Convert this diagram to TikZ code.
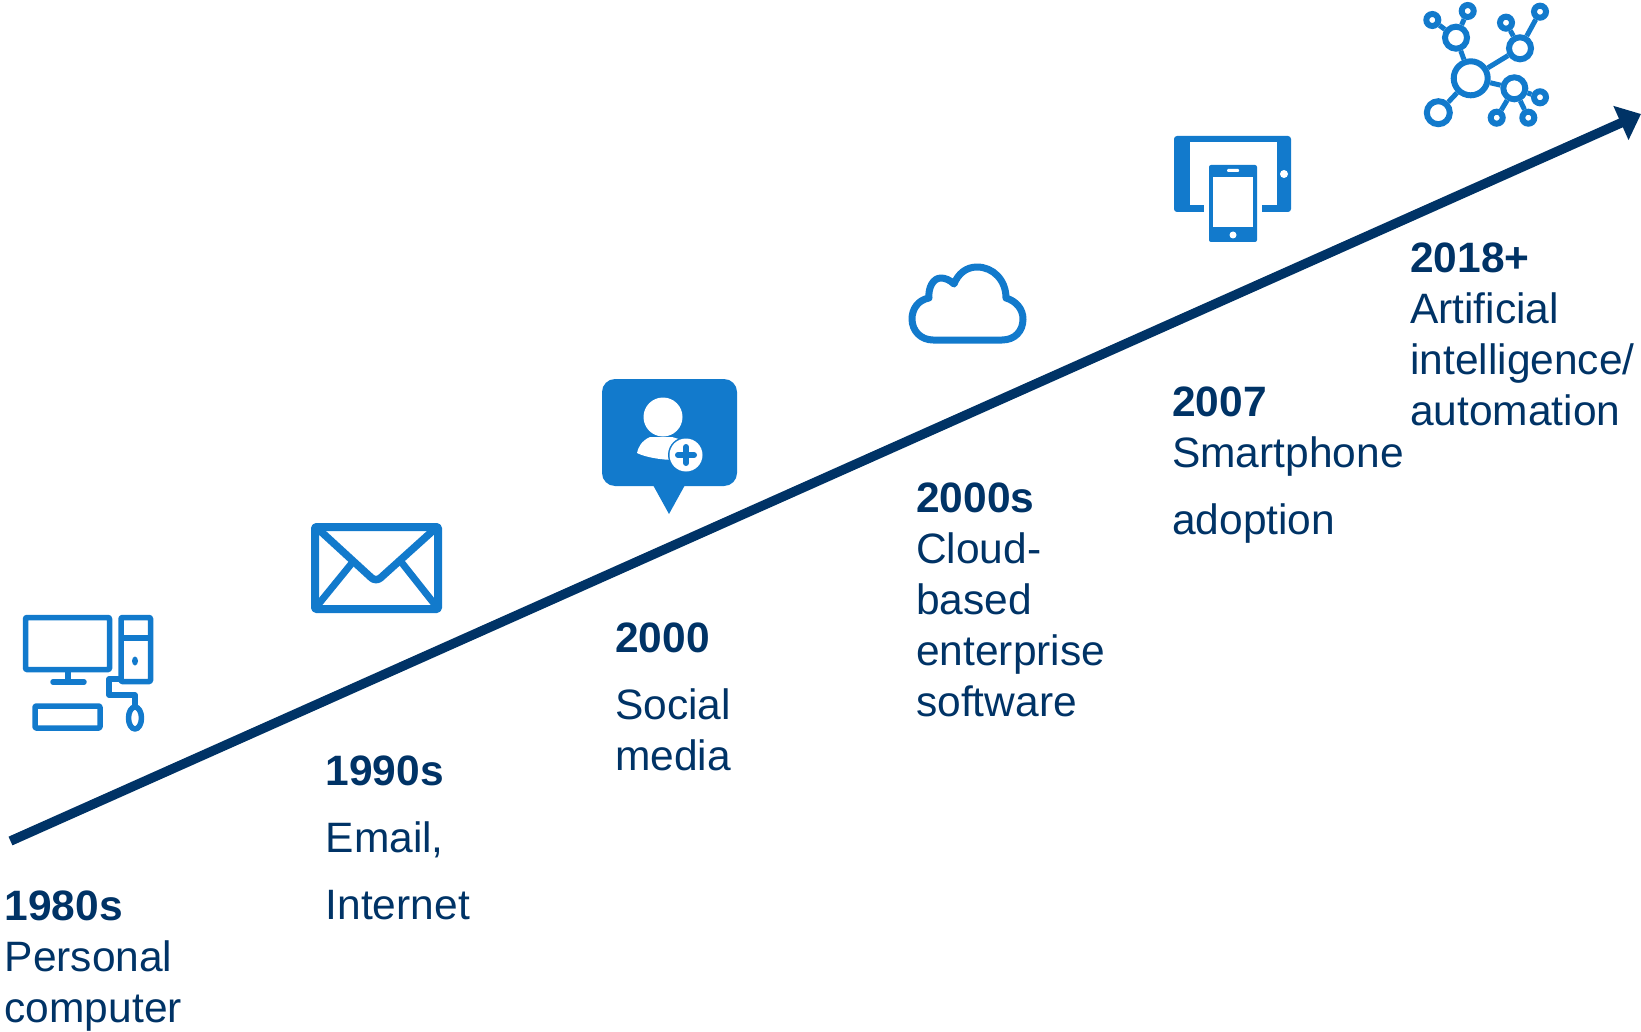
\documentclass[tikz,border=0pt]{standalone}
\usepackage{fontspec}
\setmainfont{Liberation Sans}
\usetikzlibrary{arrows.meta}

\definecolor{navyline}{HTML}{003366}
\definecolor{iconblue}{HTML}{127ACC}

\tikzset{
    eralabel/.style={anchor=north west, inner sep=0pt, align=left, text=navyline,
        font=\fontsize{42.5}{51}\selectfont},
    iconline/.style={draw=iconblue, line join=round},
    hubnode/.style={circle, draw=iconblue, line width=6pt, inner sep=0pt},
    hublink/.style={draw=iconblue, line width=5pt}
}

\begin{document}
\begin{tikzpicture}[x=1pt, y=-1pt]
    \useasboundingbox (0,0) rectangle (1641,1032);

    % Draw the rising time line
    \coordinate (linestart) at (10.5,841);
    \coordinate (linetip) at (1641,114);
    \draw[navyline, line width=9.5pt, -{Triangle[length=22pt,width=36pt]}] (linestart) -- (linetip);

    % Draw the labels under the line
    \node[eralabel] (pc) at (4.5,891) {\textbf{1980s}\\Personal\\computer};
    \node[eralabel] (email) at (325.5,756) {\textbf{1990s}\\[16pt]Email,\\[16pt]Internet};
    \node[eralabel] (social) at (615,623) {\textbf{2000}\\[16pt]Social\\media};
    \node[eralabel] (cloud) at (916,483) {\textbf{2000s}\\Cloud-\\based\\enterprise\\software};
    \node[eralabel] (phone) at (1172,386.5) {\textbf{2007}\\Smartphone\\[16pt]adoption};
    \node[eralabel] (ai) at (1410,242.5) {\textbf{2018+}\\Artificial\\intelligence/\\automation};

    % Draw the computer icon
    \draw[iconline, line width=5.5pt, rounded corners=1pt] (25.5,617.5) rectangle (109.5,669.5);
    \draw[iconline, line width=5.5pt] (68,672) -- (68,682);
    \draw[iconline, line width=5.5pt, line cap=round] (53,682) -- (84,682);
    \draw[iconline, line width=5.5pt, rounded corners=1pt] (121,617.5) rectangle (150.5,681.5);
    \draw[iconline, line width=5.5pt] (121,638) -- (150.5,638);
    \fill[iconblue] (135,661) ellipse (3 and 4.5);
    \draw[iconline, line width=5.5pt] (121,679) -- (109,679) -- (109,695) -- (135,695) -- (135,707);
    \draw[iconline, line width=5.5pt] (135,718) ellipse (6.5 and 11);
    \draw[iconline, line width=5.5pt, rounded corners=1pt] (35,706) rectangle (100,728);

    % Draw the envelope icon
    \draw[iconline, line width=8pt, rounded corners=1pt] (315,527) rectangle (438,609);
    \draw[iconline, line width=7.5pt, rounded corners=6pt] (316,527) -- (376,582) -- (437,527);
    \draw[iconline, line width=7pt] (352,563) -- (317,606);
    \draw[iconline, line width=7pt] (402,563) -- (436,606);

    % Draw the speech bubble with the person
    \fill[iconblue, rounded corners=13pt] (602,379) rectangle (737,486);
    \fill[iconblue] (653,485) -- (669,514) -- (685,485) -- cycle;
    \fill[white] (663,417) circle (19.5);
    \fill[white] (650,437) .. controls (641,441) and (638,448) .. (637,453)
    .. controls (645,457) and (660,460) .. (676,460) -- (682,440) -- (672,437) -- cycle;
    \fill[iconblue] (686,455) circle (18);
    \fill[white] (686,455) circle (16.5);
    \draw[iconblue, line width=6pt, line cap=round] (678,455) -- (694,455) (686,447) -- (686,463);

    % Draw the cloud icon
    \draw[iconline, line width=7pt] (933,340) -- (1002,340)
    .. controls (1015,340) and (1023,331) .. (1023,319)
    .. controls (1023,309) and (1016,301) .. (1006,298)
    .. controls (1006,280) and (993,267) .. (977,267)
    .. controls (966,267) and (958,274) .. (954,284)
    .. controls (950,280) and (945,278) .. (941,278)
    .. controls (933,278) and (928,288) .. (929,298)
    .. controls (918,300) and (912,309) .. (912,319)
    .. controls (912,331) and (921,340) .. (933,340) -- cycle;

    % Draw the tablet and the phone
    \fill[iconblue, rounded corners=3pt] (1174,136) rectangle (1291,212);
    \fill[white] (1190,142) rectangle (1277,205);
    \fill[white] (1204,200) rectangle (1262,212.5);
    \fill[white] (1284,174) circle (4);
    \fill[iconblue, rounded corners=2pt] (1209,165) rectangle (1257,242);
    \fill[white] (1213,177) rectangle (1253,227);
    \fill[white, rounded corners=1pt] (1227,169) rectangle (1239,172);
    \fill[white] (1233,235) circle (3.5);

    % Draw the network of circles
    \foreach \name/\x/\y/\size in {hub/1470.7/78.3/34, nodea/1456/37.7/22, nodeaa/1432.3/20/12,
        nodeab/1467.7/11/12, nodeb/1520/48.3/22, nodeba/1506/22.7/12, nodebb/1540/11.7/12,
        nodec/1514.3/88.3/22, nodeca/1540/97.3/12, nodecb/1496.7/117.7/12, nodecc/1528.3/117.7/12,
        noded/1438.3/112.7/23} {
            \node[hubnode, minimum size=\size pt] (\name) at (\x,\y) {};
        }
    \foreach \from/\to in {hub/nodea, hub/nodeb, hub/nodec, hub/noded, nodea/nodeaa, nodea/nodeab,
        nodeb/nodeba, nodeb/nodebb, nodec/nodeca, nodec/nodecb, nodec/nodecc} {
            \draw[hublink] (\from) -- (\to);
        }
\end{tikzpicture}
\end{document}
